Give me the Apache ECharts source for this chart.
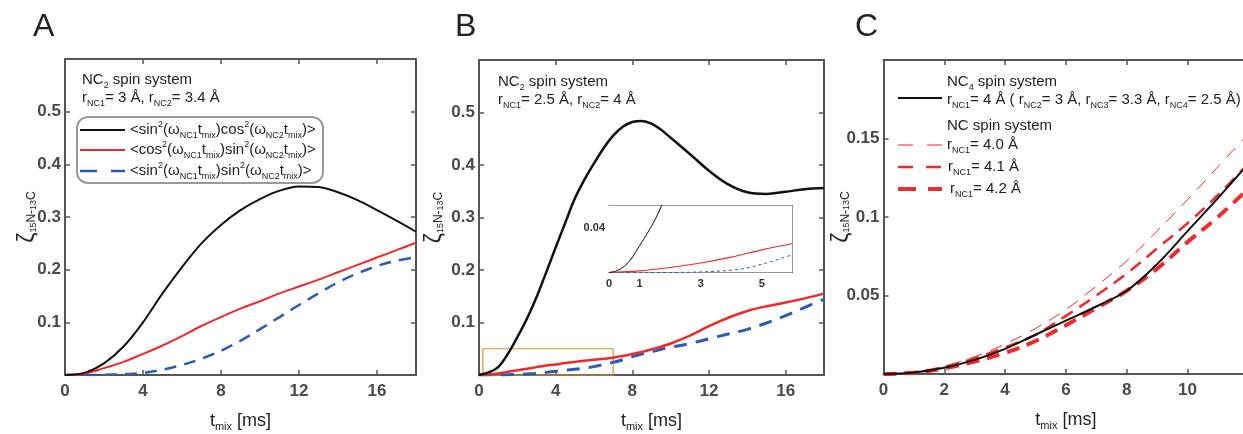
<!DOCTYPE html>
<html><head><meta charset="utf-8">
<script src="https://cdn.jsdelivr.net/npm/echarts@6/dist/echarts.min.js"></script>
<style>html,body{margin:0;padding:0;background:#fff}#c{width:1243px;height:434px}</style>
</head><body><div id="c"></div>
<script>
// ---------- DATA ----------
// Panel A (t in ms)
const tA = [0,1,2,3,4,5,6,7,8,9,10,11,12,13,14,15,16,17,18];
const aBlack = [0,0.004,0.022,0.054,0.1,0.155,0.205,0.25,0.285,0.313,0.334,0.35,0.358,0.357,0.347,0.332,0.313,0.293,0.272];
const aRed   = [0,0.003,0.013,0.025,0.04,0.056,0.074,0.093,0.11,0.126,0.14,0.155,0.168,0.181,0.195,0.209,0.223,0.237,0.251];
const aBlue  = [0,0,0.0005,0.0015,0.004,0.01,0.019,0.031,0.046,0.065,0.087,0.11,0.133,0.155,0.176,0.193,0.207,0.217,0.224];
// Panel B
const tB = [0,0.5,1,1.5,2,2.5,3,3.5,4,4.5,5,5.5,6,6.5,7,7.5,8,8.5,9,9.5,10,11,12,13,14,15,16,17,18];
const bBlack = [0,0.005,0.015,0.04,0.072,0.107,0.148,0.195,0.243,0.29,0.336,0.372,0.403,0.432,0.456,0.473,0.482,0.484,0.479,0.467,0.452,0.421,0.389,0.363,0.348,0.345,0.349,0.354,0.356];
const bRed   = [0,0.001,0.003,0.006,0.009,0.012,0.015,0.018,0.02,0.023,0.025,0.027,0.029,0.031,0.033,0.036,0.04,0.044,0.049,0.054,0.06,0.075,0.093,0.109,0.122,0.131,0.138,0.146,0.155];
const bBlue  = [0,0,0,0.0005,0.001,0.002,0.003,0.005,0.007,0.009,0.011,0.013,0.016,0.02,0.024,0.029,0.035,0.04,0.044,0.049,0.053,0.06,0.069,0.078,0.087,0.099,0.113,0.129,0.144];
const zoomBoxB = [[0.2, 0], [7, 0.05]];
// Panel B inset
const tInBlack = [0,0.25,0.5,0.75,1,1.25,1.5,1.75,2];
const inBlack  = [0,0.0015,0.0055,0.013,0.024,0.035,0.047,0.062,0.08];
const tInRed   = [0,1,2,3,4,5,6];
const inRed    = [0,0.0015,0.0045,0.0085,0.0137,0.0203,0.026];
const tInBlue  = [0,1,2,3,4,4.5,5,5.5,6];
const inBlue   = [0,0,0,0.0005,0.002,0.004,0.0075,0.0115,0.016];
// Panel C
const tC = [0,1,2,3,4,5,6,7,8,9,10,11,12];
const cNC4  = [0,0.001,0.004,0.009,0.016,0.025,0.034,0.043,0.053,0.07,0.091,0.112,0.134];
const cR40  = [0,0.001,0.005,0.011,0.019,0.029,0.041,0.056,0.072,0.091,0.111,0.132,0.153];
const cR41  = [0,0.001,0.0045,0.01,0.017,0.025,0.037,0.05,0.064,0.08,0.096,0.114,0.134];
const cR42  = [0,0.0008,0.0035,0.008,0.0135,0.021,0.031,0.042,0.053,0.067,0.084,0.1,0.118];
// Tick labels
const insetXTicks = [0,1,3,5];
const insetYTicks = [0.04];
// Texts
const panelTitles = ['A','B','C'];
const annA = ['{n|NC}{s|2}{n| spin system}', '{n|r}{s|NC1}{n|= 3 Å, r}{s|NC2}{n|= 3.4 Å}'];
const annB = ['{n|NC}{s|2}{n| spin system}', '{n|r}{s|NC1}{n|= 2.5 Å, r}{s|NC2}{n|= 4 Å}'];
const legendA = [
  '{n|<sin}{p|2}{n|(ω}{s|NC1}{n|t}{s|mix}{n|)cos}{p|2}{n|(ω}{s|NC2}{n|t}{s|mix}{n|)>}',
  '{n|<cos}{p|2}{n|(ω}{s|NC1}{n|t}{s|mix}{n|)sin}{p|2}{n|(ω}{s|NC2}{n|t}{s|mix}{n|)>}',
  '{n|<sin}{p|2}{n|(ω}{s|NC1}{n|t}{s|mix}{n|)sin}{p|2}{n|(ω}{s|NC2}{n|t}{s|mix}{n|)>}'
];
const legendC = [
  '{n|NC}{s|4}{n| spin system}',
  '{n|r}{s|NC1}{n|= 4 Å ( r}{s|NC2}{n|= 3 Å, r}{s|NC3}{n|= 3.3 Å, r}{s|NC4}{n|= 2.5 Å)}',
  '{n|NC spin system}',
  '{n|r}{s|NC1}{n|= 4.0 Å}',
  '{n|r}{s|NC1}{n|= 4.1 Å}',
  '{n|r}{s|NC1}{n|= 4.2 Å}'
];
const xName = '{t|t}{m|mix}{t| [ms]}';
const yName = '{z|ζ}{a|15}{b|N-}{a|13}{b|C}';

// ---------- STYLE ----------
const FONT = "'Liberation Sans', Arial, Helvetica, sans-serif";
const TXT = '#222';
const AX = '#555';
const BLACK = '#111', RED = '#ee2a2a', BLUE = '#2a5cb5';
const RICH = {
  n: {fontSize: 15, lineHeight: 20, fontFamily: FONT, fill: TXT},
  s: {fontSize: 9, lineHeight: 8, verticalAlign: 'bottom', fontFamily: FONT, fill: TXT},
  p: {fontSize: 9, lineHeight: 15, verticalAlign: 'top', fontFamily: FONT, fill: TXT}
};
const pair = (t, v) => t.map((x, i) => [x, v[i]]);

const grids = [
  {left: 65, top: 59, width: 351, height: 316, outerBoundsMode: 'none', containLabel: false},
  {left: 479, top: 60, width: 345, height: 315, outerBoundsMode: 'none', containLabel: false},
  {left: 883.5, top: 60, width: 364.8, height: 314, outerBoundsMode: 'none', containLabel: false},
  {left: 609, top: 205.5, width: 183.5, height: 67, show: true, backgroundColor: '#fff', borderWidth: 0, z: 5, outerBoundsMode: 'none', containLabel: false}
];

function mainX(g, max, interval) {
  const common = {type: 'value', gridIndex: g, min: 0, max: max, interval: interval,
    splitLine: {show: false},
    axisLine: {show: true, onZero: false, lineStyle: {color: AX, width: 2}},
    axisTick: {show: true, inside: true, length: 5, lineStyle: {color: AX, width: 1.5}}};
  return [
    Object.assign({}, common, {position: 'bottom',
      axisLabel: {show: true, margin: 8, color: '#4a4a4a', fontSize: 17, fontWeight: 'bold', fontFamily: FONT, showMaxLabel: false},
      name: xName, nameLocation: 'middle', nameGap: 35, nameMoveOverlap: false,
      nameTextStyle: {rich: {
        t: {fontSize: 18, lineHeight: 22, fontFamily: FONT, color: TXT},
        m: {fontSize: 11, lineHeight: 9, verticalAlign: 'bottom', fontFamily: FONT, color: TXT}}}}),
    Object.assign({}, common, {position: 'top', axisLabel: {show: false}})
  ];
}
function mainY(g, max, interval, gap) {
  const common = {type: 'value', gridIndex: g, min: 0, max: max, interval: interval,
    splitLine: {show: false},
    axisLine: {show: true, onZero: false, lineStyle: {color: AX, width: 2}},
    axisTick: {show: true, inside: true, length: 5, lineStyle: {color: AX, width: 1.5}}};
  return [
    Object.assign({}, common, {position: 'left',
      axisLabel: {show: true, margin: 4, color: '#4a4a4a', fontSize: 17, fontWeight: 'bold', fontFamily: FONT, showMinLabel: false, showMaxLabel: false},
      name: yName, nameLocation: 'middle', nameGap: gap, nameRotate: 90, nameMoveOverlap: false,
      nameTextStyle: {fontSize: 22, rich: {
        z: {fontSize: 23, lineHeight: 20, fontFamily: FONT, color: TXT},
        a: {fontSize: 9, lineHeight: 18, verticalAlign: 'bottom', fontFamily: FONT, color: TXT},
        b: {fontSize: 12, lineHeight: 12, verticalAlign: 'bottom', fontFamily: FONT, color: TXT}}}}),
    Object.assign({}, common, {position: 'right', axisLabel: {show: false}})
  ];
}
const insetAxisLine = {show: true, onZero: false, lineStyle: {color: '#333', width: 1}};
const xAxes = [].concat(mainX(0, 18, 4), mainX(1, 18, 4), mainX(2, 12, 2), [
  {type: 'value', gridIndex: 3, min: 0, max: 6, position: 'bottom', splitLine: {show: false},
   axisLine: insetAxisLine,
   axisTick: {show: true, inside: true, length: 3, customValues: insetXTicks.slice(1), lineStyle: {color: '#333'}},
   axisLabel: {show: true, margin: 6, customValues: insetXTicks, color: '#333', fontSize: 11, fontWeight: 'bold', fontFamily: FONT}},
  {type: 'value', gridIndex: 3, min: 0, max: 6, position: 'top', splitLine: {show: false},
   axisLine: insetAxisLine, axisTick: {show: false}, axisLabel: {show: false}}
]);
const yAxes = [].concat(mainY(0, 0.6, 0.1, 27), mainY(1, 0.6, 0.1, 34), mainY(2, 0.2, 0.05, 32), [
  {type: 'value', gridIndex: 3, min: 0, max: 0.06, position: 'left', splitLine: {show: false},
   axisLine: insetAxisLine,
   axisTick: {show: true, inside: true, length: 3, customValues: insetYTicks, lineStyle: {color: '#333'}},
   axisLabel: {show: true, margin: 4, customValues: insetYTicks, color: '#333', fontSize: 11, fontWeight: 'bold', fontFamily: FONT}},
  {type: 'value', gridIndex: 3, min: 0, max: 0.06, position: 'right', splitLine: {show: false},
   axisLine: insetAxisLine,
   axisTick: {show: true, inside: true, length: 3, customValues: insetYTicks, lineStyle: {color: '#333'}},
   axisLabel: {show: false}}
]);

function line(g, data, color, width, dash, z, extra) {
  return Object.assign({type: 'line', xAxisIndex: 2 * g, yAxisIndex: 2 * g, data: data,
    showSymbol: false, symbol: 'none', smooth: 0.35, silent: true, z: z || 2,
    lineStyle: {color: color, width: width, type: dash || 'solid', cap: 'butt'}}, extra || {});
}

const series = [
  line(0, pair(tA, aBlue), BLUE, 2.5, [12, 8], 2),
  line(0, pair(tA, aRed), RED, 2, null, 3),
  line(0, pair(tA, aBlack), BLACK, 2, null, 4),
  line(1, pair(tB, bBlue), BLUE, 3, [13, 9], 2),
  line(1, pair(tB, bRed), RED, 2.5, null, 3, {
    markArea: {silent: true, itemStyle: {color: 'rgba(0,0,0,0)', borderColor: '#e0913a', borderWidth: 1.2},
      data: [[{coord: zoomBoxB[0]}, {coord: zoomBoxB[1]}]]}}),
  line(1, pair(tB, bBlack), BLACK, 2.5, null, 4),
  line(2, pair(tC, cR42), RED, 4, [13, 8], 2),
  line(2, pair(tC, cR41), RED, 2.5, [13, 8], 2),
  line(2, pair(tC, cR40), RED, 1, [13, 9], 2),
  line(2, pair(tC, cNC4), BLACK, 2, null, 4),
  line(3, pair(tInBlue, inBlue), BLUE, 1, [3, 3], 6),
  line(3, pair(tInRed, inRed), RED, 1.2, null, 6),
  line(3, pair(tInBlack, inBlack), BLACK, 1, null, 6)
];

function txt(x, y, text) {
  return {type: 'text', x: x, y: y, z: 20, silent: true,
    style: {text: text, rich: RICH, fill: TXT, fontFamily: FONT, fontSize: 15, align: 'left', verticalAlign: 'middle'}};
}
function seg(x1, x2, y, color, width, dash) {
  return {type: 'line', z: 20, silent: true, shape: {x1: x1, y1: y, x2: x2, y2: y},
    style: {stroke: color, lineWidth: width, lineDash: dash || null, lineCap: 'butt'}};
}
const graphics = [
  {type: 'text', x: 33, y: 27, z: 20, style: {text: panelTitles[0], fontSize: 32, fontFamily: FONT, fill: TXT, verticalAlign: 'middle'}},
  {type: 'text', x: 455, y: 27, z: 20, style: {text: panelTitles[1], fontSize: 32, fontFamily: FONT, fill: TXT, verticalAlign: 'middle'}},
  {type: 'text', x: 855, y: 27, z: 20, style: {text: panelTitles[2], fontSize: 32, fontFamily: FONT, fill: TXT, verticalAlign: 'middle'}},
  txt(82, 80, annA[0]), txt(82, 98, annA[1]),
  {type: 'rect', z: 15, silent: true, shape: {x: 77, y: 117, width: 246, height: 66, r: 11},
   style: {fill: '#fff', stroke: '#999', lineWidth: 2}},
  seg(80, 125, 130, BLACK, 2), seg(80, 125, 150, RED, 2), seg(80, 125, 171, BLUE, 2.5, [17, 14]),
  txt(130, 130, legendA[0]), txt(130, 150, legendA[1]), txt(130, 171, legendA[2]),
  txt(498, 82, annB[0]), txt(498, 100, annB[1]),
  txt(947, 82, legendC[0]), txt(947, 100, legendC[1]), seg(898, 942, 98, BLACK, 2),
  txt(947, 126, legendC[2]),
  txt(947, 145, legendC[3]), seg(898, 942, 145, RED, 1, [15, 14]),
  txt(948, 167, legendC[4]), seg(898, 942, 167, RED, 2.5, [15, 13]),
  txt(950, 189, legendC[5]), seg(898, 942, 189, RED, 4, [18, 12])
];

const chart = echarts.init(document.getElementById('c'), null, {renderer: 'canvas'});
chart.setOption({
  animation: false,
  backgroundColor: '#fff',
  textStyle: {fontFamily: FONT},
  grid: grids,
  xAxis: xAxes,
  yAxis: yAxes,
  series: series,
  graphic: graphics
});
</script>
</body></html>
